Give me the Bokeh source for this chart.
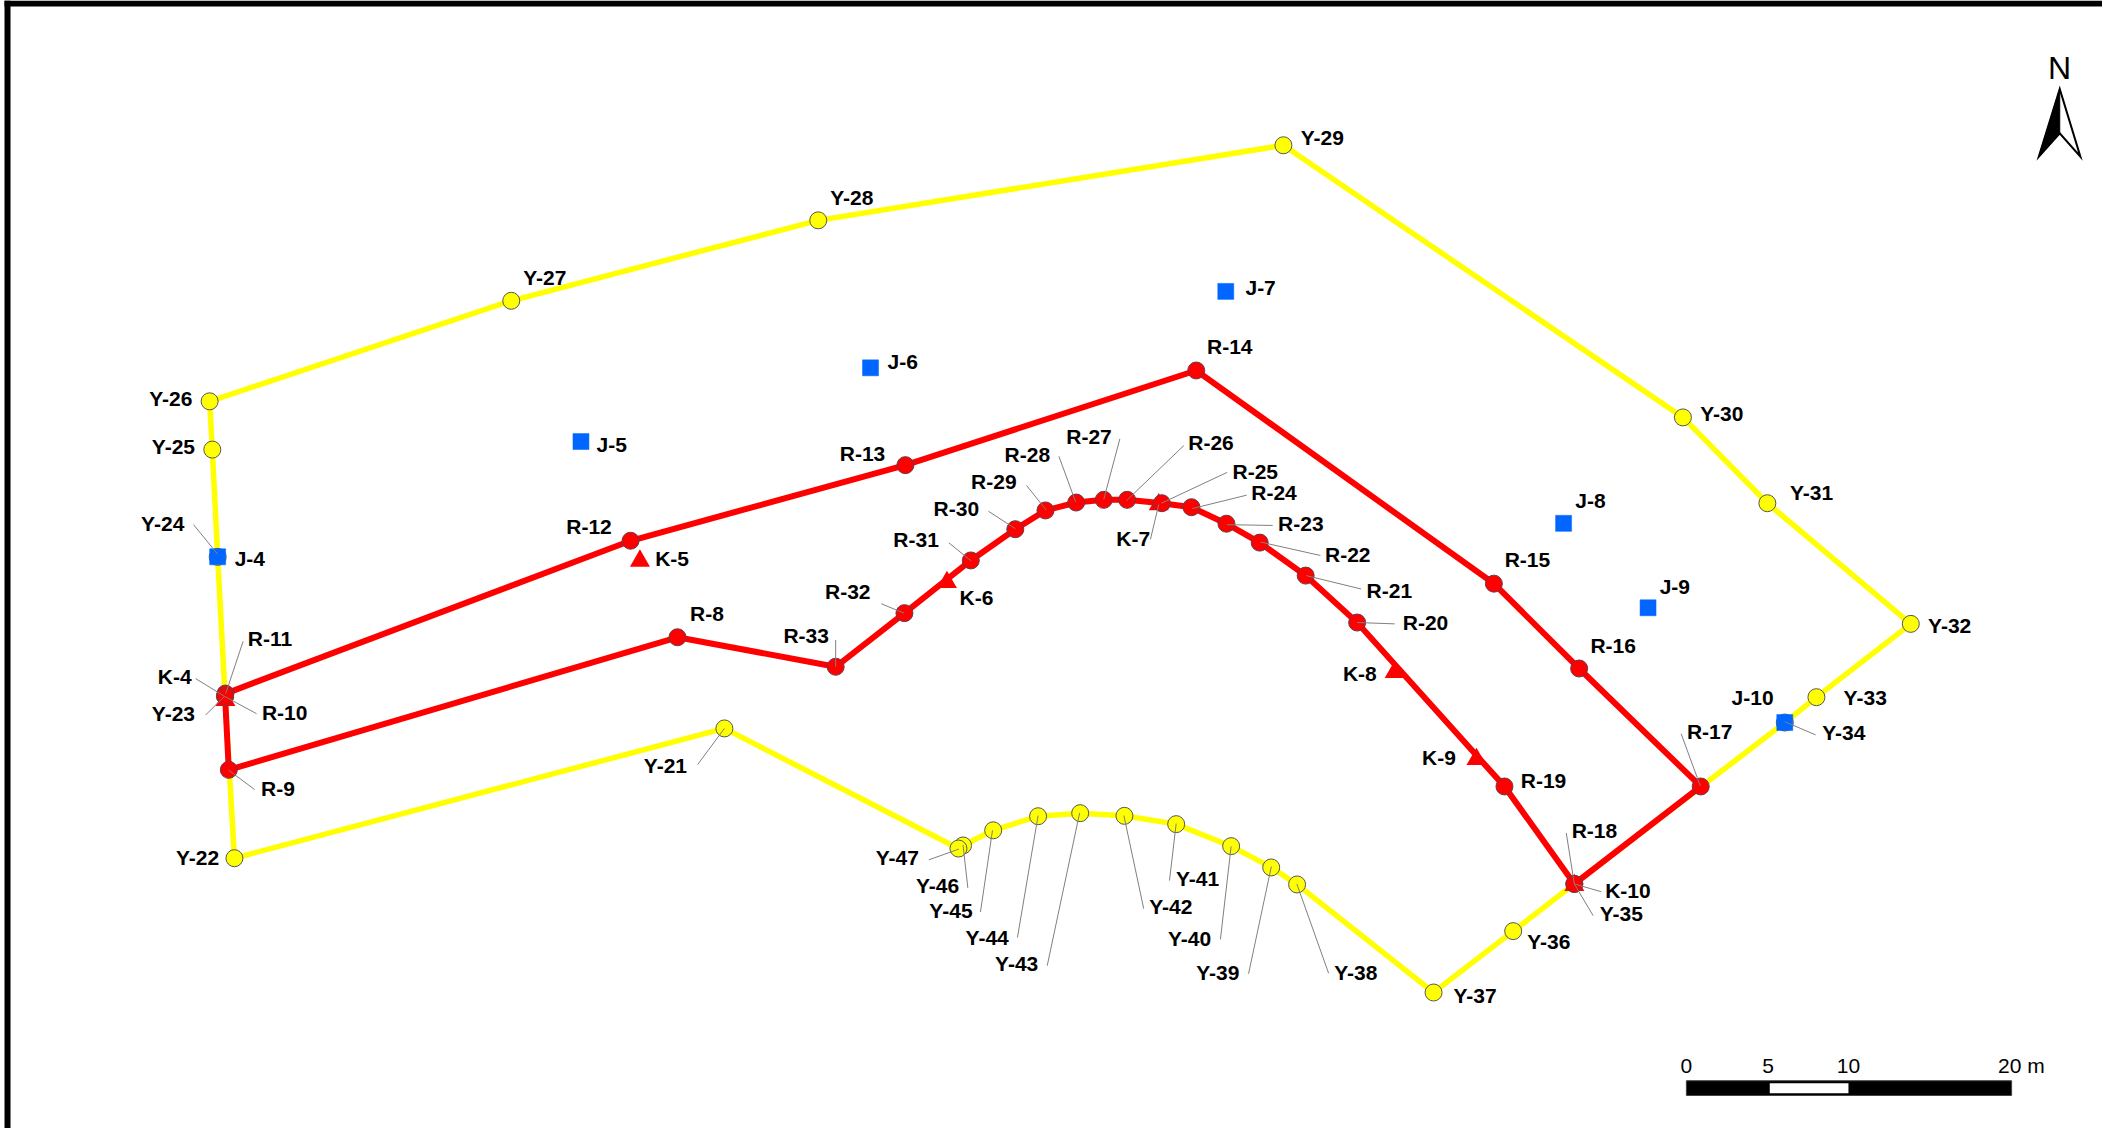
from bokeh.plotting import figure
from bokeh.embed import file_html
from bokeh.resources import INLINE
from bokeh.core.properties import value
from bokeh.models import Range1d

FONT = "Liberation Sans"

# Survey map coordinates (map units: 1568 across, y downward)
yellow_names = ["Y-21","Y-22","Y-23","Y-24","Y-25","Y-26","Y-27","Y-28","Y-29","Y-30","Y-31","Y-32","Y-33","Y-34",
                "Y-35","Y-36","Y-37","Y-38","Y-39","Y-40","Y-41","Y-42","Y-43","Y-44","Y-45","Y-46","Y-47"]
yellow_x = [540,174.5,167.5,162,158,156,381,610,957,1255,1318,1425,1354.6,1331,
            1174,1128.4,1069,967.2,947.9,918,877,838.4,805.4,774,740.5,718,714.6]
yellow_y = [543,639.8,519,415,335,299,224,164,108,311,375,465,519.7,538.6,
            659,694.2,740,659.4,646.7,630.8,614.4,608.2,606.2,608.5,619,630.3,632.6]

red_names = ["R-8","R-33","R-32","R-31","R-30","R-29","R-28","R-27","R-26","R-25","R-24","R-23","R-22","R-21","R-20",
             "R-19","R-18","R-17","R-16","R-15","R-14","R-13","R-12","R-11","R-10","R-9"]
red_x = [505,623,674.3,723.8,757,779.5,802.4,823,840.4,866.3,888.4,914.5,939.3,973.6,1012,
         1121.9,1174,1268.3,1177.6,1114,892,675,470,167.8,167.5,170.3]
red_y = [475,497,457,417.7,394.4,380.4,374.5,372.5,372.5,375,378,390.3,404.4,429,464,
         586.3,659,586.3,498.3,435,276,346.6,403,517,519,573.9]

k_names = ["K-4","K-5","K-6","K-7","K-8","K-9","K-10"]
k_x = [167.8,477,706,864,1040,1101,1174]
k_y = [522,418,434,376,501,566,660]

j_names = ["J-4","J-5","J-6","J-7","J-8","J-9","J-10"]
j_x = [162,433,649,914,1166,1229,1331]
j_y = [415,329,274,217,390,453,538.6]

label_text = ["Y-26","Y-25","Y-24","J-4","K-4","R-11","R-10","Y-23","R-9","Y-22","Y-21","R-8","R-33","R-12","K-5","J-5",
              "R-13","J-6","Y-27","Y-28","Y-29","J-7","R-14","R-26","R-27","R-28","R-25","R-29","R-24","R-30","R-23","K-7",
              "R-31","R-22","R-21","R-32","K-6","R-20","K-8","K-9","R-19","R-15","R-16","J-8","J-9","Y-30","Y-31","Y-32",
              "Y-33","Y-34","J-10","R-17","R-18","K-10","Y-35","Y-36","Y-37","Y-38","Y-39","Y-40","Y-41","Y-42","Y-43","Y-44",
              "Y-45","Y-46","Y-47"]
label_x = [127,129,121,186,130,201,212,129,207,147,496,527,601,439,501,456,
           643,673,406,635,986,940,917,903,812,766,936,741,950,713,970,845,
           683,1005,1036,632,728,1063,1014,1073,1151,1139,1203,1186,1249,1284,1351,1454,
           1391,1375,1307,1275,1189,1214,1209,1155,1100,1011,908,887,893,873,758,736,
           709,699,669]
label_y = [297,333,390,416,504,476,531,532,588,639,571,457,474,392,416,331,
           338,269,207,147,102,214,258,330,325,339,351,359,367,379,390,401,
           402,413,440,441,445,464,502,565,582,417,481,373,437,308,367,466,
           520,546,520,545,619,664,681,702,742,725,725,700,655,676,718,699,
           679,660,639]

# Leader lines: label end -> surveyed point
lead_x0 = [144,153,145.5,191,181,189.6,520,692.5,721.6,731,758.6,780.8,852.8,872,910,931,990.7,
           882.7,835,789.5,765.4,737,707.4,657,623,915,929.6,949,984.6,1015,1040,857.8,
           1253.7,1168,1194,1188,1354]
lead_y0 = [391,533,505.8,532,478,588.6,570,641,662,680,699,720,677.5,656.5,700.4,726,725.6,
           332,327,340,361.8,381,404.5,450,477,352,369,391.6,414,439,465,402,
           547,621,664.8,682.6,547.8]
lead_x1 = [162,167,167,167,168,170,540,715,718,740,774,805,838,877,918,948,967,
           840,823,802,780,757,724,674,623,866,889,915,940,974,1012,864,
           1268,1174,1174,1174,1331]
lead_y1 = [413,519,519,519,517,574,543,633,630,619,608,606,608,614,631,646,659,
           373,372,374,380,394,418,457,497,375,379,391,404,429,464,376,
           586,659,659,659,538]

# Scale bar, metres
scale_ticks = ["0","5","10","20 m"]
scale_tick_x = [1257.6,1318.5,1378.5,1507.5]
bar_left, bar_right, bar_top, bar_bottom = 1257.6,1500.2,805.8,816.8
hole_left, hole_right, hole_top, hole_bottom = 1319.8,1378.5,807.6,815.1

# North arrow outline
arrow_x = [1536.1,1520.5,1536.1,1551.5]
arrow_y = [66,116.5,99,116.5]

W, H = 2102, 1128
S = W / 1568.0

p = figure(width=W, height=H, output_backend="svg", toolbar_location=None,
           x_range=Range1d(0, 1568), y_range=Range1d(H / S, 0),
           min_border=0, min_border_left=0, min_border_right=0, min_border_top=0, min_border_bottom=0,
           background_fill_color="white", border_fill_color="white")
p.axis.visible = False
p.grid.visible = False
p.outline_line_color = None

# Page frame
p.quad(left=[4 / S, 4 / S], right=[W / S, 10 / S], top=[0, 0], bottom=[6 / S, H / S],
       color="black", line_color=None)

# Lines
p.line(yellow_x + yellow_x[:1], yellow_y + yellow_y[:1], line_color="#ffff00", line_width=5.5, line_join="miter")
p.line(red_x + red_x[:1], red_y + red_y[:1], line_color="#ff0000", line_width=6, line_join="miter")

# Points
p.scatter(yellow_x, yellow_y, marker="circle", size=17, fill_color="#ffff00", line_color="#555555", line_width=1)
p.scatter(k_x, k_y, marker="triangle", size=20, fill_color="#ff0000", line_color="#ff0000", line_width=0)
p.scatter(red_x, red_y, marker="circle", size=17, fill_color="#ff0000", line_color="#6a3a4a", line_width=1)
p.scatter(j_x, j_y, marker="square", size=16, fill_color="#0066ff", line_color="#0066ff", line_width=0.5)

# Leaders
p.segment(lead_x0, lead_y0, lead_x1, lead_y1, line_color="#808080", line_width=1)

# Labels
p.text(label_x, label_y, text=label_text, text_font=value(FONT), text_font_size="21px",
       text_font_style="bold", text_color="#000000", text_align="center", text_baseline="middle")

# Scale bar
p.quad(left=[bar_left], right=[bar_right], top=[bar_top], bottom=[bar_bottom], color="black", line_color="#444444")
p.quad(left=[hole_left], right=[hole_right], top=[hole_top], bottom=[hole_bottom], color="white", line_color=None)
p.text(scale_tick_x, [794.5] * 4, text=scale_ticks, text_font=value(FONT), text_font_size="21px",
       text_color="#000000", text_align="center", text_baseline="middle")

# North arrow
p.patch(arrow_x, arrow_y, fill_color="white", line_color="black", line_width=2, line_join="miter")
p.patch(arrow_x[:3], arrow_y[:3], fill_color="black", line_color="black", line_width=1)
p.text([1536], [50.5], text=["N"], text_font=value(FONT), text_font_size="32px",
       text_color="#000000", text_align="center", text_baseline="middle")

open("out.html", "w").write(file_html(p, INLINE))
